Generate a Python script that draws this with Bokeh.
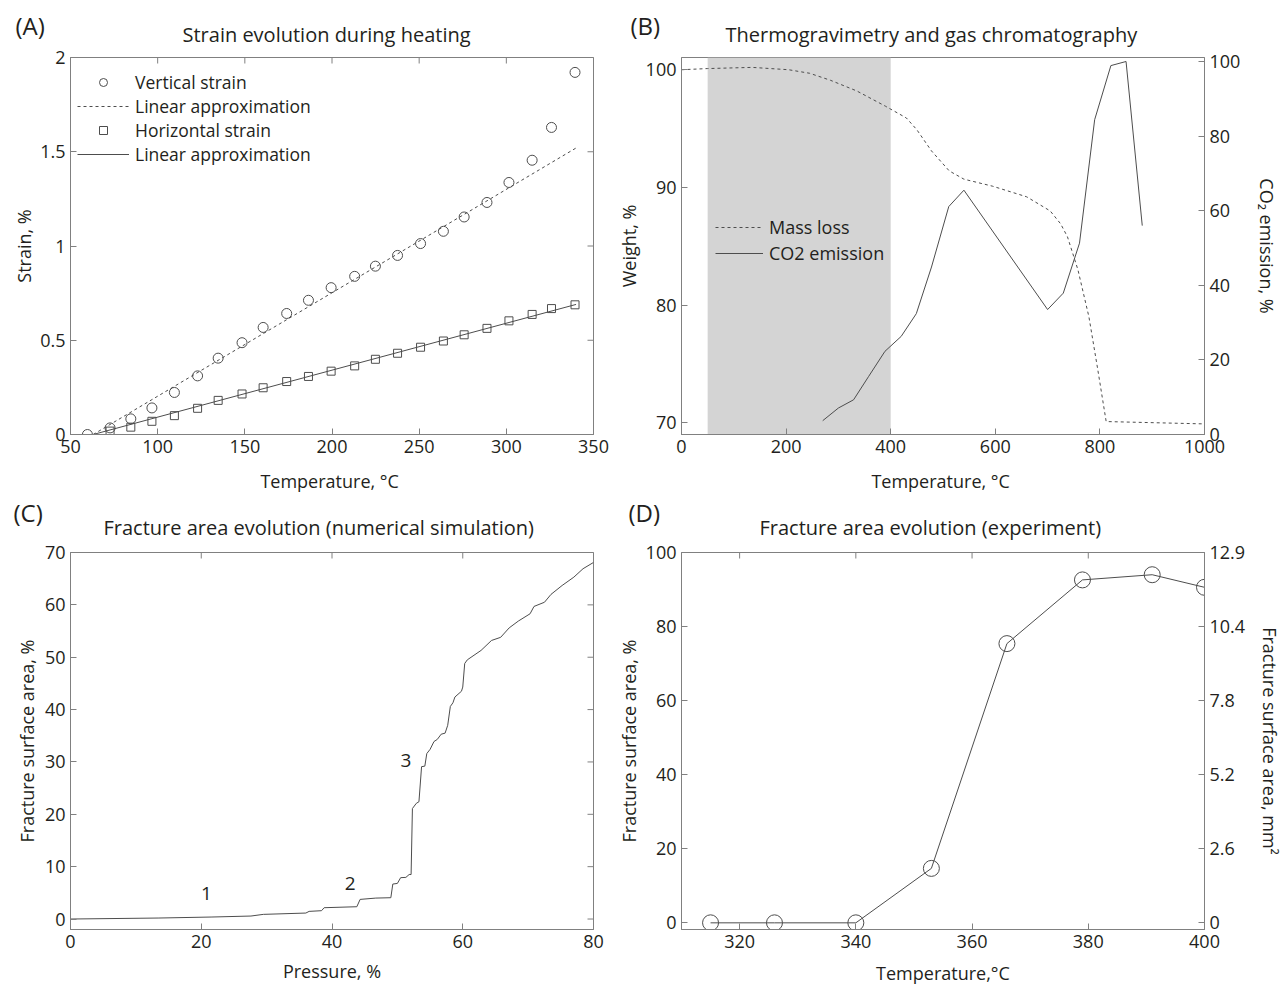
import math
from bokeh.plotting import figure
from bokeh.layouts import column, row
from bokeh.models import (Range1d, LinearAxis, FixedTicker, Legend, Title,
                          LegendItem, BoxAnnotation)
from bokeh.embed import file_html
from bokeh.resources import INLINE
from bokeh.core.properties import value

FONT = "Open Sans"
TXT = "#231f20"
AXC = "#808080"
LNC = "#4d4d4d"
TICK_FS = "18px"
LAB_FS = "18px"

# ---------------- Panel A data ----------------
a_temp = [59.7, 72.7, 84.6, 96.7, 109.6, 122.9, 134.7, 148.4, 160.5, 174.0, 186.5,
          199.5, 213.0, 224.9, 237.6, 250.8, 263.9, 275.8, 288.9, 301.5, 314.8, 325.9, 339.4]
a_vert = [0.0, 0.035, 0.083, 0.141, 0.223, 0.311, 0.405, 0.487, 0.568, 0.642, 0.712,
          0.779, 0.839, 0.893, 0.950, 1.013, 1.078, 1.154, 1.231, 1.337, 1.455, 1.629, 1.921]
a_temp_h = a_temp[1:]
a_horiz = [0.018, 0.039, 0.070, 0.100, 0.139, 0.181, 0.215, 0.248, 0.281, 0.308,
           0.336, 0.364, 0.399, 0.431, 0.463, 0.496, 0.529, 0.563, 0.603, 0.637, 0.668, 0.688]
a_fit_temp = [63, 340]
a_vert_fit = [0.0, 1.52]
a_horiz_fit = [0.0, 0.69]
a_xticks = [50, 100, 150, 200, 250, 300, 350]
a_yticks = [0, 0.5, 1, 1.5, 2]
a_ylabels = ["0", "0.5", "1", "1.5", "2"]

# ---------------- Panel B data ----------------
b_mass_temp = [0, 50, 135, 205, 245, 285, 335, 390, 430, 450, 478, 512, 540, 595,
               660, 705, 725, 738, 758, 779, 796, 812, 1000]
b_mass = [100.0, 100.1, 100.2, 100.0, 99.7, 99.1, 98.2, 96.9, 95.9, 94.9, 93.1, 91.4,
          90.7, 90.1, 89.2, 88.0, 86.9, 85.8, 83.0, 79.0, 74.5, 70.1, 69.9]
b_co2_temp = [270, 300, 329, 358, 389, 420, 449, 478, 511, 540, 700, 730, 761, 790,
              821, 850, 881]
b_co2 = [3.7, 7.1, 9.3, 15.6, 22.3, 26.3, 32.4, 44.9, 61.1, 65.5, 33.5, 37.9, 51.3,
         84.4, 98.9, 100.0, 56.0]
b_shade = [50, 400]
b_xticks = [0, 200, 400, 600, 800, 1000]
b_yticks = [70, 80, 90, 100]
b_y2ticks = [0, 20, 40, 60, 80, 100]

# ---------------- Panel C data ----------------
c_pressure = [0, 13.4, 21.5, 27.6, 29.5, 36.0, 36.5, 38.4, 38.8, 43.8, 44.3, 46.7, 49.0,
              49.3, 50.0, 50.5, 51.3, 51.8, 52.1, 52.3, 52.9, 53.3, 53.7, 54.2, 54.5,
              55.0, 55.6, 56.1, 56.7, 57.3, 57.7, 58.1, 58.5, 58.8, 59.8, 60.0, 60.3,
              60.7, 62.8, 64.4, 65.8, 67.1, 68.5, 70.3, 70.9, 72.5, 73.5, 75.2, 77.0,
              78.4, 80.0]
c_area = [0.0, 0.19, 0.38, 0.57, 0.89, 1.14, 1.46, 1.59, 2.16, 2.35, 3.75, 4.0, 4.07,
          6.68, 6.8, 7.9, 7.95, 8.5, 8.5, 21.1, 22.1, 22.4, 29.1, 29.2, 31.6, 32.4,
          33.9, 34.3, 35.3, 35.5, 37.0, 40.6, 41.3, 42.4, 43.5, 44.3, 48.8, 49.5,
          51.3, 53.2, 53.8, 55.6, 56.9, 58.3, 59.7, 60.5, 62.0, 63.7, 65.3, 66.9, 68.1]
c_note_x = [20.8, 42.8, 51.3]
c_note_y = [4.8, 6.8, 30.3]
c_note_text = ["1", "2", "3"]
c_xticks = [0, 20, 40, 60, 80]
c_yticks = [0, 10, 20, 30, 40, 50, 60, 70]

# ---------------- Panel D data ----------------
d_temp = [315, 326, 340, 353, 366, 379, 391, 400]
d_area = [0, 0, 0, 14.7, 75.4, 92.6, 94.0, 90.6]
d_xticks = [320, 340, 360, 380, 400]
d_yticks = [0, 20, 40, 60, 80, 100]
d_y2labels = ["0", "2.6", "5.2", "7.8", "10.4", "12.9"]

FW, FH = 523, 377


def base(xr, yr, ml, mr, mt, mb):
    p = figure(x_range=Range1d(*xr), y_range=Range1d(*yr), title=None,
               frame_width=FW, frame_height=FH,
               min_border_left=ml, min_border_right=mr,
               min_border_top=mt, min_border_bottom=mb,
               output_backend="svg", toolbar_location=None,
               background_fill_color="white", border_fill_color="white")
    p.outline_line_color = AXC
    p.outline_line_width = 1
    p.xgrid.visible = False
    p.ygrid.visible = False
    return p


def style(ax, ticks, labels=None, text=None, standoff=5):
    ax.ticker = FixedTicker(ticks=ticks)
    if labels is not None:
        ax.major_label_overrides = {t: l for t, l in zip(ticks, labels)}
    ax.axis_line_color = AXC
    ax.major_tick_line_color = AXC
    ax.major_tick_in = 6
    ax.major_tick_out = 0
    ax.minor_tick_line_color = None
    ax.major_label_text_font = FONT
    ax.major_label_text_font_size = TICK_FS
    ax.major_label_text_color = TXT
    ax.major_label_standoff = 5
    if text is not None:
        ax.axis_label = text
        ax.axis_label_text_font = FONT
        ax.axis_label_text_font_size = LAB_FS
        ax.axis_label_text_font_style = "normal"
        ax.axis_label_text_color = TXT
        ax.axis_label_standoff = standoff


def mirror(p, xr, yr, xticks=None, yticks=None):
    # inward tick marks on the top / right edges of the box
    if xticks is not None:
        p.scatter(xticks, [yr[1]] * len(xticks), marker="dash", angle=math.pi / 2,
                  size=12, line_color=AXC, line_width=1)
    if yticks is not None:
        p.scatter([xr[1]] * len(yticks), yticks, marker="dash", angle=0,
                  size=12, line_color=AXC, line_width=1)


def titles(p, main, offset, letter, loffset, s_main, s_letter):
    p.add_layout(Title(text=main, align="left", offset=offset, text_font=FONT,
                       text_font_size="20px", text_font_style="normal",
                       text_color=TXT, standoff=s_main), "above")
    p.add_layout(Title(text=letter, align="left", offset=loffset, text_font=FONT,
                       text_font_size="24px", text_font_style="normal",
                       text_color=TXT, standoff=s_letter), "above")


def legend(items, loc, lh, glyph_w, spacing, fs):
    lg = Legend(items=items, location=loc)
    lg.border_line_color = None
    lg.background_fill_alpha = 0
    lg.label_text_font = FONT
    lg.label_text_font_size = fs
    lg.label_text_color = TXT
    lg.label_height = lh
    lg.glyph_height = lh
    lg.glyph_width = glyph_w
    lg.label_standoff = 6
    lg.spacing = spacing
    lg.padding = 6
    lg.margin = 0
    return lg


# ---------------- Panel A ----------------
a_xr, a_yr = (50, 350), (0, 2)
pa = base(a_xr, a_yr, 70, 16, 57, 61)
style(pa.xaxis[0], a_xticks, text="Temperature,  \u00b0C", standoff=13)
style(pa.yaxis[0], a_yticks, a_ylabels, text="Strain, %", standoff=1)
mirror(pa, a_xr, a_yr, a_xticks, a_yticks)
r_vf = pa.line(a_fit_temp, a_vert_fit, line_color=LNC, line_width=1, line_dash="3 3")
r_hf = pa.line(a_fit_temp, a_horiz_fit, line_color=LNC, line_width=1)
r_v = pa.scatter(a_temp, a_vert, marker="circle", size=10, fill_color=None,
                 line_color=LNC, line_width=1)
r_h = pa.scatter(a_temp_h, a_horiz, marker="square", size=8, fill_color=None,
                 line_color=LNC, line_width=1)
pa.add_layout(legend([LegendItem(label="Vertical strain", renderers=[r_v]),
                      LegendItem(label="Linear approximation", renderers=[r_vf]),
                      LegendItem(label="Horizontal strain", renderers=[r_h]),
                      LegendItem(label="Linear approximation", renderers=[r_hf])],
                     (7, 268), 20, 52, 0, "17.5px"))
titles(pa, "Strain evolution during heating", 112, "(A)", -55, 19, -64)

# ---------------- Panel B ----------------
b_xr, b_yr = (0, 1000), (69.0, 101.04)
pb = base(b_xr, b_yr, 72, 82, 57, 61)
pb.extra_y_ranges = {"co2": Range1d(0, 101.07)}
style(pb.xaxis[0], b_xticks, text="Temperature,  \u00b0C", standoff=13)
style(pb.yaxis[0], b_yticks, text="Weight, %", standoff=2)
ax2 = LinearAxis(y_range_name="co2")
style(ax2, b_y2ticks, text="CO\u2082 emission, %", standoff=12)
pb.add_layout(ax2, "right")
pb.add_layout(BoxAnnotation(left=b_shade[0], right=b_shade[1], fill_color="#d4d4d4",
                            fill_alpha=1, line_color=None, level="underlay"))
r_m = pb.line(b_mass_temp, b_mass, line_color=LNC, line_width=1, line_dash="3 3")
r_c = pb.line(b_co2_temp, b_co2, line_color=LNC, line_width=1, y_range_name="co2")
pb.add_layout(legend([LegendItem(label="Mass loss", renderers=[r_m]),
                      LegendItem(label="CO2 emission", renderers=[r_c])],
                     (34, 169), 24, 48, 2, "18px"))
titles(pb, "Thermogravimetry and gas chromatography", 44, "(B)", -51, 19, -64)

# ---------------- Panel C ----------------
c_xr, c_yr = (0, 80), (-2, 70)
pc = base(c_xr, c_yr, 70, 16, 57, 60)
style(pc.xaxis[0], c_xticks, text="Pressure, %", standoff=8)
style(pc.yaxis[0], c_yticks, text="Fracture surface area, %", standoff=3)
mirror(pc, c_xr, c_yr, c_xticks, c_yticks)
pc.line(c_pressure, c_area, line_color=LNC, line_width=1)
pc.text(x=c_note_x, y=c_note_y, text=c_note_text, text_font=value(FONT),
        text_font_size="19px", text_color=TXT, text_align="center",
        text_baseline="middle")
titles(pc, "Fracture area evolution (numerical simulation)", 33, "(C)", -57, 23, -57)

# ---------------- Panel D ----------------
d_xr, d_yr = (310, 400), (-1.8, 100)
pd_ = base(d_xr, d_yr, 72, 82, 57, 60)
pd_.extra_y_ranges = {"mm2": Range1d(*d_yr)}
style(pd_.xaxis[0], d_xticks, text="Temperature,\u00b0C", standoff=10)
style(pd_.yaxis[0], d_yticks, text="Fracture surface area, %", standoff=2)
axd = LinearAxis(y_range_name="mm2")
style(axd, d_yticks, d_y2labels, text="Fracture surface area, mm\u00b2", standoff=10)
pd_.add_layout(axd, "right")
mirror(pd_, d_xr, d_yr, d_xticks, None)
pd_.line(d_temp, d_area, line_color=LNC, line_width=1)
pd_.scatter(d_temp, d_area, marker="circle", size=16, fill_color=None,
            line_color=LNC, line_width=1)
titles(pd_, "Fracture area evolution (experiment)", 78, "(D)", -53, 23, -57)

layout = column(row(pa, pb), row(pc, pd_))
open("out.html", "w").write(file_html(layout, INLINE))
